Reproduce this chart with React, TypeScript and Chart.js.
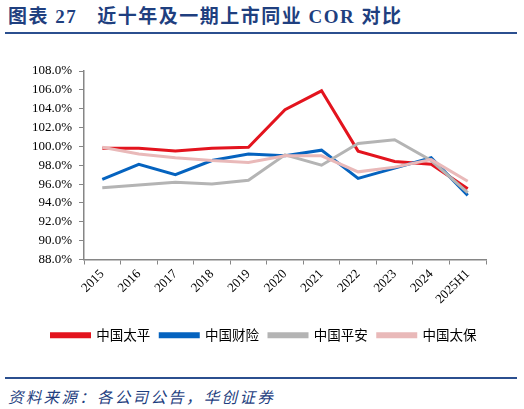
import { useEffect, useRef } from "react";
import { Chart, registerables } from "chart.js";

Chart.register(...registerables);

const years = ["2015", "2016", "2017", "2018", "2019", "2020", "2021", "2022", "2023", "2024", "2025H1"];

// COR，%
const taiping = [99.8, 99.8, 99.5, 99.8, 99.9, 103.9, 105.9, 99.5, 98.4, 98.1, 95.5];
const caixian = [96.5, 98.1, 97.0, 98.5, 99.2, 99.0, 99.6, 96.6, 97.7, 98.8, 94.8];
const pingan = [95.6, 95.9, 96.2, 96.0, 96.4, 99.1, 98.0, 100.3, 100.7, 98.5, 95.1];
const taibao = [99.9, 99.2, 98.8, 98.5, 98.3, 99.0, 99.0, 97.3, 97.8, 98.6, 96.3];

const yTicks = [88, 90, 92, 94, 96, 98, 100, 102, 104, 106, 108];

const NAVY = "#1f3f7f";
const AXIS = "#868686";

function line(label: string, data: number[], color: string, order: number) {
  return {
    label,
    data,
    borderColor: color,
    backgroundColor: color,
    borderWidth: 3,
    pointRadius: 0,
    tension: 0,
    order,
  };
}

export default function App() {
  const canvasRef = useRef<HTMLCanvasElement>(null);

  useEffect(() => {
    if (!canvasRef.current) return;
    const chart = new Chart(canvasRef.current, {
      type: "line",
      data: {
        labels: years,
        datasets: [
          line("中国太平", taiping, "#e3141e", 3),
          line("中国财险", caixian, "#0563bf", 2),
          line("中国平安", pingan, "#b4b4b4", 1),
          line("中国太保", taibao, "#e9b9b9", 0),
        ],
      },
      options: {
        responsive: false,
        animation: false,
        layout: { padding: { top: 31, right: 0, left: 4, bottom: 8 } },
        plugins: {
          tooltip: { enabled: false },
          legend: {
            position: "bottom",
            labels: {
              boxWidth: 38,
              boxHeight: 3,
              padding: 10,
              color: "#000",
              font: { family: "'Noto Sans CJK SC', sans-serif", size: 13.5 },
              sort: (a: any, b: any) => a.datasetIndex - b.datasetIndex,
            },
          },
        },
        scales: {
          x: {
            offset: true,
            grid: { offset: true, drawOnChartArea: false, tickLength: 5, color: AXIS },
            border: { color: AXIS, width: 1.5 },
            ticks: {
              autoSkip: false,
              maxRotation: 45,
              minRotation: 45,
              padding: 2,
              color: "#000",
              font: { family: "'Liberation Serif', serif", size: 13 },
            },
            afterFit: (scale: any) => {
              scale.height = 59;
            },
          },
          y: {
            min: 88,
            max: 108,
            afterBuildTicks: (scale: any) => {
              scale.ticks = yTicks.map((v) => ({ value: v }));
            },
            grid: { drawOnChartArea: false, tickLength: 5, color: AXIS },
            border: { color: AXIS, width: 1.5 },
            ticks: {
              padding: 7,
              color: "#000",
              font: { family: "'Liberation Serif', serif", size: 13 },
              callback: (v: any) => `${Number(v).toFixed(1)}%`,
            },
            afterFit: (scale: any) => {
              scale.width = 80;
            },
          },
          // empty right axis, only reserves the blank margin right of the plot
          yRight: {
            position: "right",
            min: 88,
            max: 108,
            grid: { display: false },
            border: { display: false },
            ticks: { display: false },
            afterFit: (scale: any) => {
              scale.width = 38;
            },
          },
        },
      },
    });
    return () => chart.destroy();
  }, []);

  return (
    <div
      style={{
        position: "absolute",
        left: 0,
        top: 0,
        width: 524,
        height: 409,
        background: "#fff",
        overflow: "hidden",
      }}
    >
      <div
        style={{
          position: "absolute",
          left: 8,
          top: 5,
          color: NAVY,
          fontFamily: "'Liberation Serif', 'Noto Sans CJK SC', serif",
          fontWeight: "bold",
          fontSize: 19,
          lineHeight: "24px",
          whiteSpace: "nowrap",
          letterSpacing: 1.5,
        }}
      >
        <span>图表 27</span>
        <span style={{ marginLeft: 20 }}>近十年及一期上市同业 COR 对比</span>
      </div>
      <div style={{ position: "absolute", left: 5, top: 32, width: 512, height: 2, background: "#2b4f8f" }} />
      <canvas
        ref={canvasRef}
        width={524}
        height={320}
        style={{ position: "absolute", left: 0, top: 40 }}
      />
      <div style={{ position: "absolute", left: 5, top: 377, width: 512, height: 2, background: "#2b4f8f" }} />
      <div
        style={{
          position: "absolute",
          left: 8,
          top: 386,
          color: NAVY,
          fontFamily: "'Noto Sans CJK SC', sans-serif",
          fontStyle: "italic",
          fontSize: 15.5,
          lineHeight: "20px",
          letterSpacing: 2.3,
          whiteSpace: "nowrap",
        }}
      >
        资料来源：各公司公告，华创证券
      </div>
    </div>
  );
}
